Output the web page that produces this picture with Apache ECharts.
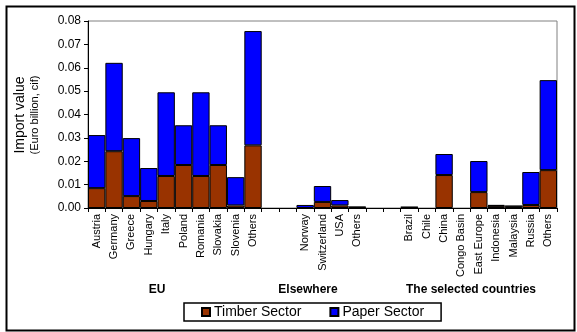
<!DOCTYPE html>
<html><head><meta charset="utf-8">
<script src="https://cdn.jsdelivr.net/npm/echarts@6/dist/echarts.min.js"></script>
<style>html,body{margin:0;padding:0;background:#fff}#c{width:577px;height:332px}</style>
</head><body><div id="c"></div>
<script>
var categories = ['Austria','Germany','Greece','Hungary','Italy','Poland','Romania','Slovakia','Slovenia','Others','','',
  'Norway','Switzerland','USA','Others','','',
  'Brazil','Chile','China','Congo Basin','East Europe','Indonesia','Malaysia','Russia','Others'];
var timber = [0.0085,0.0243,0.0051,0.0030,0.0137,0.0184,0.0137,0.0184,0.0011,0.0268,null,null,
  null,0.0026,0.0011,0.0003,null,null,
  0.0003,null,0.0141,null,0.0068,0.0009,0.0007,0.0013,0.0162];
var paper = [0.0227,0.0378,0.0248,0.0141,0.0358,0.0170,0.0358,0.0170,0.0121,0.0489,null,null,
  0.0013,0.0068,0.0023,0.0002,null,null,
  0.0001,null,0.0090,null,0.0133,0.0004,0.0002,0.0141,0.0385];
var groupLabels = ['EU','Elsewhere','The selected countries'];
var seriesNames = ['Timber Sector','Paper Sector'];
var yTicks = [0,0.01,0.02,0.03,0.04,0.05,0.06,0.07,0.08];

var chart = echarts.init(document.getElementById('c'));
var font = 'Liberation Sans, Arial, sans-serif';
chart.setOption({
  animation:false,
  backgroundColor:'#fff',
  textStyle:{fontFamily:font},
  grid:{left:88,top:21,right:20,bottom:124,show:true,borderColor:'#808080',borderWidth:1},
  legend:{
    data:seriesNames.map(function(n){return {name:n,icon:'rect'};}),
    left:184, top:303,
    itemWidth:8,itemHeight:8,itemGap:28,
    borderColor:'#000',borderWidth:1.5,padding:[2,17,2,17],
    textStyle:{fontSize:14,color:'#000',fontFamily:font,padding:[0,0,0,-1]}
  },
  xAxis:{
    type:'category',data:categories,
    axisLine:{lineStyle:{color:'#000',width:1}},
    axisTick:{show:true,interval:0,length:4,lineStyle:{color:'#000'}},
    axisLabel:{interval:0,rotate:90,fontSize:11,color:'#000',margin:6,fontFamily:font},
    splitLine:{show:false}
  },
  yAxis:{
    type:'value',min:0,max:0.08,interval:0.01,
    axisLine:{show:true,lineStyle:{color:'#000',width:1}},
    axisTick:{show:true,length:4,lineStyle:{color:'#000'}},
    axisLabel:{fontSize:12,color:'#000',margin:7,fontFamily:font,formatter:function(v){return v.toFixed(2);}},
    splitLine:{show:false}
  },
  series:[
    {name:seriesNames[0],type:'bar',stack:'s',data:timber,barCategoryGap:'0%',
     itemStyle:{color:'#993300',borderColor:'#000',borderWidth:1}},
    {name:seriesNames[1],type:'bar',stack:'s',data:paper,barCategoryGap:'0%',
     itemStyle:{color:'#0000ff',borderColor:'#000',borderWidth:1}}
  ],
  graphic:[
    {type:'rect',left:4,top:4,shape:{width:568,height:324},style:{fill:null,stroke:'#000',lineWidth:2},silent:true,z:-1},
    {type:'text',x:20,y:115,rotation:Math.PI/2,style:{text:'Import value',font:'14px '+font,fill:'#000',textAlign:'center',textVerticalAlign:'middle'}},
    {type:'text',x:35,y:115,rotation:Math.PI/2,style:{text:'(Euro billion, cif)',font:'11px '+font,fill:'#000',textAlign:'center',textVerticalAlign:'middle'}},
    {type:'text',x:157,y:290,style:{text:groupLabels[0],font:'bold 12px '+font,fill:'#000',textAlign:'center',textVerticalAlign:'middle'}},
    {type:'text',x:308,y:290,style:{text:groupLabels[1],font:'bold 12px '+font,fill:'#000',textAlign:'center',textVerticalAlign:'middle'}},
    {type:'text',x:471,y:290,style:{text:groupLabels[2],font:'bold 12px '+font,fill:'#000',textAlign:'center',textVerticalAlign:'middle'}}
  ]
});
</script></body></html>
